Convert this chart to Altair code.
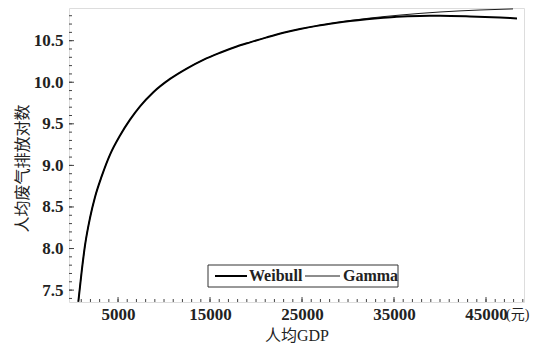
import altair as alt
import pandas as pd

# GDP per capita (yuan) and fitted log per-capita waste gas emissions
gdp_weibull = [685, 1054, 1413, 1957, 2500, 3228, 4130, 5217, 6304, 7391, 8837, 10652,
               12467, 14272, 16087, 17902, 19348, 21163, 22967, 24783, 26598, 28402,
               30217, 32033, 33837, 35293, 37826, 40000, 43261, 46522, 48370]
val_weibull = [7.36, 7.73, 8.04, 8.37, 8.62, 8.87, 9.13, 9.36, 9.55, 9.71, 9.88, 10.04,
               10.165, 10.27, 10.355, 10.43, 10.48, 10.54, 10.595, 10.64, 10.678, 10.709,
               10.736, 10.758, 10.776, 10.788, 10.798, 10.80, 10.792, 10.778, 10.768]
gdp_gamma = [685, 1054, 1413, 1957, 2500, 3228, 4130, 5217, 6304, 7391, 8837, 10652,
             12467, 14272, 16087, 17902, 19348, 21163, 22967, 24783, 26598, 28402,
             30217, 32391, 35652, 40000, 44348, 47935]
val_gamma = [7.36, 7.73, 8.04, 8.37, 8.62, 8.87, 9.13, 9.36, 9.55, 9.71, 9.88, 10.04,
             10.165, 10.27, 10.355, 10.43, 10.48, 10.54, 10.595, 10.64, 10.678, 10.712,
             10.742, 10.772, 10.808, 10.845, 10.869, 10.882]

series_names = ["Weibull", "Gamma"]
x_major = [5000, 15000, 25000, 35000, 45000]
y_major = [7.5, 8.0, 8.5, 9.0, 9.5, 10.0, 10.5]
x_minor = [v for v in range(1000, 50000, 1000)]
y_minor = [round(7.4 + 0.1 * i, 1) for i in range(35)]

df = pd.DataFrame({
    "gdp": gdp_weibull + gdp_gamma,
    "val": val_weibull + val_gamma,
    "series": ["Weibull"] * len(gdp_weibull) + ["Gamma"] * len(gdp_gamma),
})

W, H = 455, 294
xs = alt.Scale(domain=[-330, 49130], nice=False, zero=False)
ys = alt.Scale(domain=[7.357, 10.893], nice=False, zero=False)
LAT = "Liberation Serif, Noto Sans CJK SC"
CJK = "Noto Sans CJK SC"
INK = "#222"

lines = alt.Chart(df).mark_line(color="black", clip=True, interpolate="monotone").encode(
    x=alt.X("gdp:Q", scale=xs,
            axis=alt.Axis(values=x_major, format="d", tickSize=0, domain=False, grid=False,
                          labelFont=LAT, labelFontSize=17, labelFontWeight="bold",
                          labelColor=INK, labelPadding=4,
                          title="人均GDP", titleFont=LAT, titleFontSize=16,
                          titleFontWeight="normal", titleColor=INK,
                          titleBaseline="middle", titleY=33)),
    y=alt.Y("val:Q", scale=ys,
            axis=alt.Axis(values=y_major, format=".1f", tickSize=0, domain=False, grid=False,
                          labelFont=LAT, labelFontSize=17, labelFontWeight="bold",
                          labelColor=INK, labelPadding=6,
                          title="人均废气排放对数", titleFont=CJK, titleFontSize=16,
                          titleFontWeight="normal", titleColor=INK,
                          titleBaseline="middle", titleX=-47, titleY=160)),
    strokeWidth=alt.StrokeWidth("series:N",
                                scale=alt.Scale(domain=series_names, range=[2.0, 0.9]),
                                legend=None),
    detail="series:N",
)

xmin_df = pd.DataFrame({"v": x_minor})
xmaj_df = pd.DataFrame({"v": x_major})
ymin_df = pd.DataFrame({"v": y_minor})
ymaj_df = pd.DataFrame({"v": y_major})

x_minor_ticks = alt.Chart(xmin_df).mark_rule(color="#444", strokeWidth=1).encode(
    x=alt.X("v:Q", scale=xs), y=alt.value(H), y2=alt.value(H - 3))
x_major_ticks = alt.Chart(xmaj_df).mark_rule(color="#444", strokeWidth=1).encode(
    x=alt.X("v:Q", scale=xs), y=alt.value(H), y2=alt.value(H - 5))
y_minor_ticks = alt.Chart(ymin_df).mark_rule(color="#444", strokeWidth=1).encode(
    y=alt.Y("v:Q", scale=ys), x=alt.value(0), x2=alt.value(3))
y_major_ticks = alt.Chart(ymaj_df).mark_rule(color="#444", strokeWidth=1).encode(
    y=alt.Y("v:Q", scale=ys), x=alt.value(0), x2=alt.value(5))

unit = alt.Chart(pd.DataFrame({"v": [45000], "t": ["(元)"]})).mark_text(
    font=LAT, fontSize=14, align="left", baseline="middle", dx=20, dy=13, color=INK
).encode(x=alt.X("v:Q", scale=xs), y=alt.value(H), text="t:N")

# legend box (drawn by hand)
leg = pd.DataFrame({"a": [0]})
leg_box = alt.Chart(leg).mark_rect(fill="white", stroke="#333", strokeWidth=1).encode(
    x=alt.value(139), x2=alt.value(329), y=alt.value(257), y2=alt.value(279))
leg_w_line = alt.Chart(leg).mark_rule(color="black", strokeWidth=2).encode(
    x=alt.value(146), x2=alt.value(178), y=alt.value(268))
leg_g_line = alt.Chart(leg).mark_rule(color="black", strokeWidth=0.9).encode(
    x=alt.value(236), x2=alt.value(271), y=alt.value(268))
leg_w_text = alt.Chart(leg).mark_text(
    text=series_names[0], font=LAT, fontSize=16, fontWeight="bold", align="left",
    baseline="middle", color=INK).encode(x=alt.value(180), y=alt.value(268))
leg_g_text = alt.Chart(leg).mark_text(
    text=series_names[1], font=LAT, fontSize=16, fontWeight="bold", align="left",
    baseline="middle", color=INK).encode(x=alt.value(274), y=alt.value(268))

chart = alt.layer(
    lines, x_minor_ticks, x_major_ticks, y_minor_ticks, y_major_ticks, unit,
    leg_box, leg_w_line, leg_g_line, leg_w_text, leg_g_text,
).properties(
    width=W, height=H,
    autosize=alt.AutoSizeParams(type="none"),
    padding={"left": 61, "top": 0, "right": 7, "bottom": 44},
).configure_view(stroke="#444", strokeWidth=1.2).configure(background="white")

chart.save("out.html", embed_options={"renderer": "svg", "actions": False})
